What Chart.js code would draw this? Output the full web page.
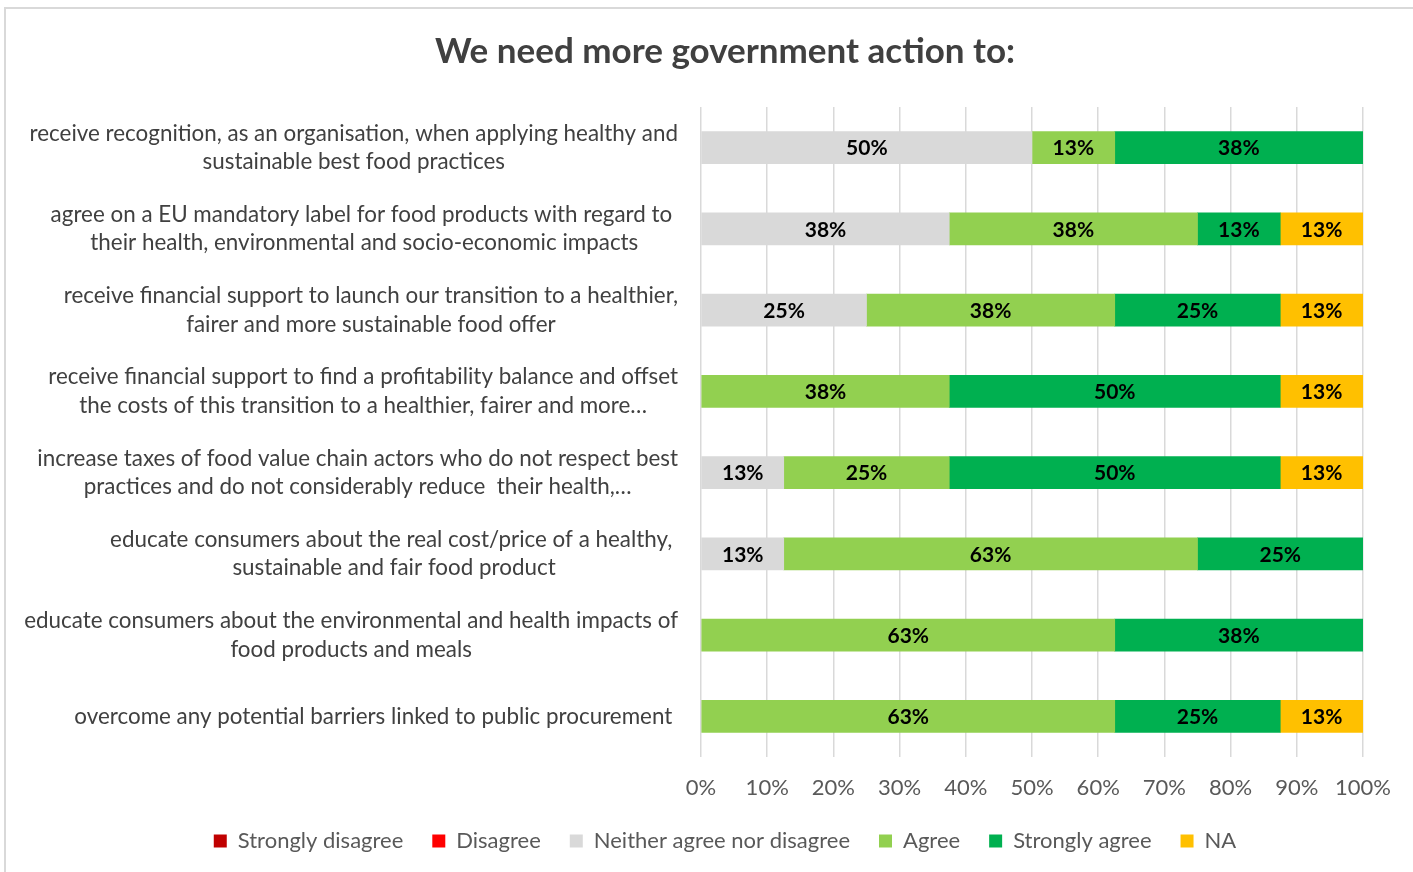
<!DOCTYPE html>
<html>
<head>
<meta charset="utf-8">
<title>We need more government action to:</title>
<script src="https://cdn.jsdelivr.net/npm/chart.js@4/dist/chart.umd.min.js"></script>
<style>
  html, body { margin: 0; padding: 0; background: #fff; overflow: hidden; }
  #frame { position: absolute; left: 4px; top: 7px; width: 1500px; height: 900px; border: 2px solid #d9d9d9; }
  #wrap { position: absolute; left: 0; top: 0; width: 1450px; height: 872px; }
</style>
</head>
<body>
<div id="frame"></div>
<div id="wrap"><canvas id="chart"></canvas></div>
<script>
const FONT = "Lato, 'Open Sans', sans-serif";

const categories = [
  ["receive recognition, as an organisation, when applying healthy and", "sustainable best food practices"],
  ["agree on a EU mandatory label for food products with regard to ", "their health, environmental and socio-economic impacts"],
  ["receive financial support to launch our transition to a healthier,", "fairer and more sustainable food offer"],
  ["receive financial support to find a profitability balance and offset", "the costs of this transition to a healthier, fairer and more…"],
  ["increase taxes of food value chain actors who do not respect best", "practices and do not considerably reduce  their health,…"],
  ["educate consumers about the real cost/price of a healthy, ", "sustainable and fair food product"],
  ["educate consumers about the environmental and health impacts of", "food products and meals"],
  ["overcome any potential barriers linked to public procurement "]
];

// shares of respondents (%), one value per category
const stronglyDisagree = [0, 0, 0, 0, 0, 0, 0, 0];
const disagree         = [0, 0, 0, 0, 0, 0, 0, 0];
const neither          = [50, 37.5, 25, 0, 12.5, 12.5, 0, 0];
const agree            = [12.5, 37.5, 37.5, 37.5, 25, 62.5, 62.5, 62.5];
const stronglyAgree    = [37.5, 12.5, 25, 50, 50, 25, 37.5, 25];
const notApplicable    = [0, 12.5, 12.5, 12.5, 12.5, 0, 0, 12.5];

const xTicks = [0, 10, 20, 30, 40, 50, 60, 70, 80, 90, 100];

const seriesNames = ["Strongly disagree", "Disagree", "Neither agree nor disagree", "Agree", "Strongly agree", "NA"];
const seriesData = [stronglyDisagree, disagree, neither, agree, stronglyAgree, notApplicable];
const seriesColors = ["#c00000", "#ff0000", "#d9d9d9", "#92d050", "#00b050", "#ffc000"];

// category text: each block right-aligned to the axis, lines centred inside it
const categoryLabels = {
  id: "categoryLabels",
  afterDraw(chart) {
    const ctx = chart.ctx;
    const y = chart.scales.y;
    const right = 678;
    const lineH = 28.5;
    ctx.save();
    ctx.font = "22.4px " + FONT;
    ctx.fillStyle = "#404040";
    ctx.textAlign = "center";
    ctx.textBaseline = "middle";
    categories.forEach((lines, i) => {
      const w = Math.max(...lines.map(l => ctx.measureText(l).width));
      const cx = right - w / 2;
      const cy = y.getPixelForValue(i);
      lines.forEach((l, k) => {
        ctx.fillText(l, cx, cy + (k - (lines.length - 1) / 2) * lineH);
      });
    });
    ctx.restore();
  }
};

// percentage printed in the middle of each segment
const segmentLabels = {
  id: "segmentLabels",
  afterDatasetsDraw(chart) {
    const ctx = chart.ctx;
    ctx.save();
    ctx.font = "bold 21px " + FONT;
    ctx.fillStyle = "#000";
    ctx.textAlign = "center";
    ctx.textBaseline = "middle";
    chart.data.datasets.forEach((ds, di) => {
      chart.getDatasetMeta(di).data.forEach((bar, i) => {
        const v = ds.data[i];
        if (!v) return;
        const cx = (bar.x + bar.base) / 2;
        ctx.fillText(Math.round(v) + "%", cx, bar.y + 1);
      });
    });
    ctx.restore();
  }
};

new Chart(document.getElementById("chart"), {
  type: "bar",
  plugins: [categoryLabels, segmentLabels],
  data: {
    labels: categories,
    datasets: seriesNames.map((name, i) => ({
      label: name,
      // empty segments are left out so no sliver is drawn at 0%
      data: seriesData[i].map(v => v || null),
      backgroundColor: seriesColors[i],
      borderWidth: 0,
      barThickness: 32
    }))
  },
  options: {
    indexAxis: "y",
    responsive: true,
    maintainAspectRatio: false,
    animation: false,
    layout: { padding: { top: 0, bottom: 10, left: 0, right: 0 } },
    scales: {
      x: {
        stacked: true,
        min: 0,
        max: 100,
        afterBuildTicks: s => { s.ticks = xTicks.map(v => ({ value: v })); },
        afterFit: s => { s.height = 44; },
        ticks: {
          callback: v => v + "%",
          color: "#595959",
          font: { family: FONT, size: 22 },
          padding: 18
        },
        grid: { color: "#d9d9d9", lineWidth: 1.5, drawTicks: false },
        border: { display: false }
      },
      y: {
        stacked: true,
        ticks: { display: false },
        grid: { display: false },
        border: { display: false },
        afterFit: s => { s.width = 701; }
      },
      pad: {
        type: "linear",
        position: "right",
        ticks: { display: false },
        grid: { display: false },
        border: { display: false },
        afterFit: s => { s.width = 87; }
      }
    },
    plugins: {
      tooltip: { enabled: false },
      title: {
        display: true,
        text: "We need more government action to:",
        color: "#404040",
        font: { family: FONT, size: 35, weight: "bold", lineHeight: 1.2 },
        padding: { top: 31, bottom: 34 }
      },
      legend: {
        position: "bottom",
        labels: {
          color: "#595959",
          font: { family: FONT, size: 22 },
          boxWidth: 13,
          boxHeight: 13,
          padding: 29
        }
      }
    }
  }
});
</script>
</body>
</html>
